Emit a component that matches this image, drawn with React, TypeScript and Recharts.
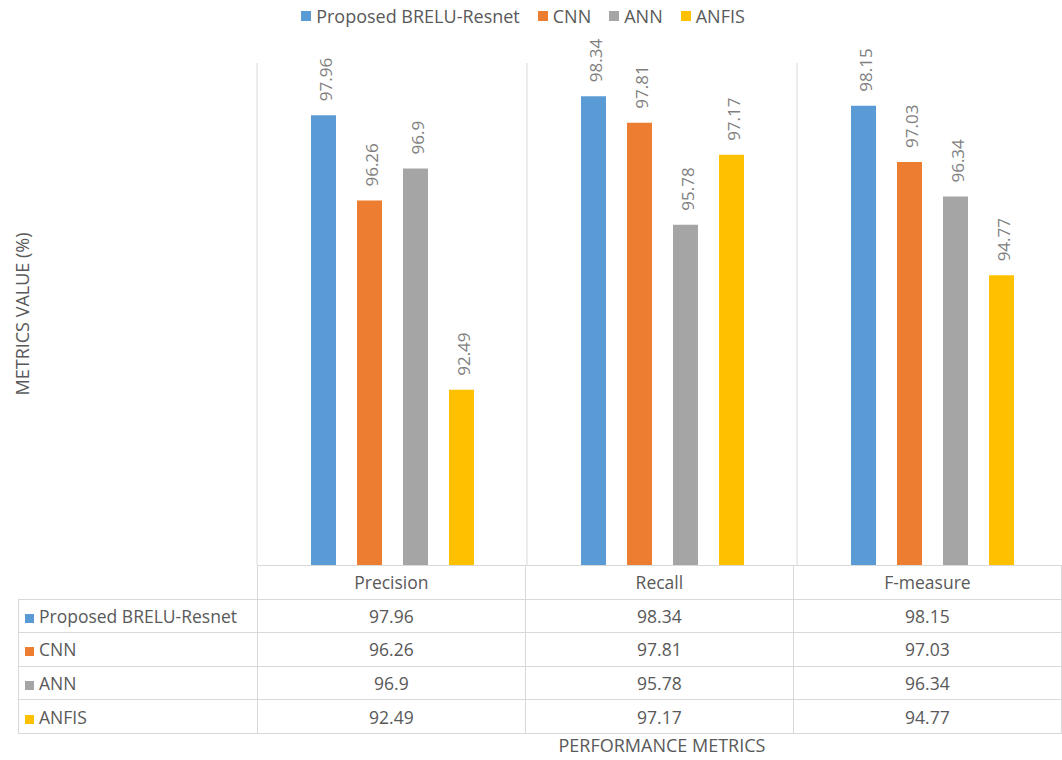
import { BarChart, Bar, XAxis, YAxis, CartesianGrid, Legend, LabelList } from 'recharts'

const categories = ['Precision', 'Recall', 'F-measure']
const seriesNames = ['Proposed BRELU-Resnet', 'CNN', 'ANN', 'ANFIS']
const brelu = [97.96, 98.34, 98.15]
const cnn = [96.26, 97.81, 97.03]
const ann = [96.9, 95.78, 96.34]
const anfis = [92.49, 97.17, 94.77]
const colors = ['#5B9BD5', '#ED7D31', '#A5A5A5', '#FFC000']
const yDomain = [89, 99]

const seriesValues = [brelu, cnn, ann, anfis]
const keys = ['brelu', 'cnn', 'ann', 'anfis']

const data = categories.map((name, i) => ({
  name,
  brelu: brelu[i],
  cnn: cnn[i],
  ann: ann[i],
  anfis: anfis[i],
}))

const FONT = '"Open Sans", sans-serif'
const TEXT = '#595959'
const LINE = '#D9D9D9'

const PLOT_LEFT = 257
const BAND = 270

function ValueLabel(props: any) {
  const { x, y, width, value } = props
  const cx = x + width / 2 + 2
  const ty = y - 14
  return (
    <text
      x={cx}
      y={ty}
      transform={`rotate(-90 ${cx} ${ty})`}
      textAnchor="start"
      dominantBaseline="central"
      fill="#7F7F7F"
      fontSize={17}
      fontFamily={FONT}
    >
      {value}
    </text>
  )
}

function LegendContent() {
  return (
    <div
      style={{
        display: 'flex',
        justifyContent: 'center',
        fontFamily: FONT,
        fontSize: 18,
        color: TEXT,
        lineHeight: '24px',
      }}
    >
      {seriesNames.map((n, i) => (
        <div key={n} style={{ display: 'flex', alignItems: 'center', marginRight: i < 3 ? 18 : 0 }}>
          <span style={{ width: 10, height: 10, background: colors[i], marginRight: 5 }} />
          <span>{n}</span>
        </div>
      ))}
    </div>
  )
}

function DataTable() {
  const cell: React.CSSProperties = {
    border: `1px solid ${LINE}`,
    padding: 0,
    height: 32.6,
    textAlign: 'center',
    fontSize: 17.5,
    color: TEXT,
  }
  return (
    <table
      style={{
        position: 'absolute',
        left: 18,
        top: 565,
        borderCollapse: 'collapse',
        tableLayout: 'fixed',
        fontFamily: FONT,
      }}
    >
      <colgroup>
        <col style={{ width: PLOT_LEFT - 18 }} />
        {categories.map((c) => (
          <col key={c} style={{ width: BAND }} />
        ))}
      </colgroup>
      <tbody>
        <tr>
          <td style={{ ...cell, border: 'none', borderRight: `1px solid ${LINE}` }} />
          {categories.map((c) => (
            <td key={c} style={cell}>
              {c}
            </td>
          ))}
        </tr>
        {seriesNames.map((n, si) => (
          <tr key={n}>
            <td style={{ ...cell, textAlign: 'left', paddingLeft: 6, whiteSpace: 'nowrap' }}>
              <span
                style={{
                  display: 'inline-block',
                  width: 9,
                  height: 9,
                  background: colors[si],
                  marginRight: 5,
                }}
              />
              {n}
            </td>
            {seriesValues[si].map((v, ci) => (
              <td key={ci} style={cell}>
                {v}
              </td>
            ))}
          </tr>
        ))}
      </tbody>
    </table>
  )
}

export default function App() {
  return (
    <div
      style={{
        position: 'absolute',
        left: 0,
        top: 0,
        width: 1062,
        height: 760,
        overflow: 'hidden',
        background: '#fff',
      }}
    >
      <BarChart
        width={PLOT_LEFT + BAND * 3}
        height={566}
        data={data}
        margin={{ top: 39, right: 0, left: 12, bottom: 1 }}
        barCategoryGap="20%"
        barGap={21}
      >
        <CartesianGrid
          horizontal={false}
          stroke={LINE}
          verticalCoordinatesGenerator={({ offset }: any) =>
            categories.map((_, i) => offset.left + (i * offset.width) / categories.length)
          }
        />
        <XAxis dataKey="name" hide />
        <YAxis
          domain={yDomain}
          allowDataOverflow
          width={PLOT_LEFT - 12}
          tick={false}
          tickLine={false}
          axisLine={false}
          label={{
            content: ({ viewBox }: any) => {
              const cy = viewBox.y + viewBox.height / 2
              return (
                <text
                  x={22}
                  y={cy}
                  transform={`rotate(-90 22 ${cy})`}
                  textAnchor="middle"
                  dominantBaseline="central"
                  fill={TEXT}
                  fontSize={18}
                  fontFamily={FONT}
                >
                  METRICS VALUE (%)
                </text>
              )
            },
          }}
        />
        <Legend
          verticalAlign="top"
          content={<LegendContent />}
          wrapperStyle={{ left: -8, top: 4, width: 1062 }}
        />
        {keys.map((k, i) => (
          <Bar key={k} dataKey={k} name={seriesNames[i]} fill={colors[i]} isAnimationActive={false}>
            <LabelList dataKey={k} content={<ValueLabel />} />
          </Bar>
        ))}
      </BarChart>
      <DataTable />
      <div
        style={{
          position: 'absolute',
          top: 733,
          left: PLOT_LEFT,
          width: BAND * 3,
          textAlign: 'center',
          fontFamily: FONT,
          fontSize: 18,
          color: TEXT,
        }}
      >
        PERFORMANCE METRICS
      </div>
    </div>
  )
}
